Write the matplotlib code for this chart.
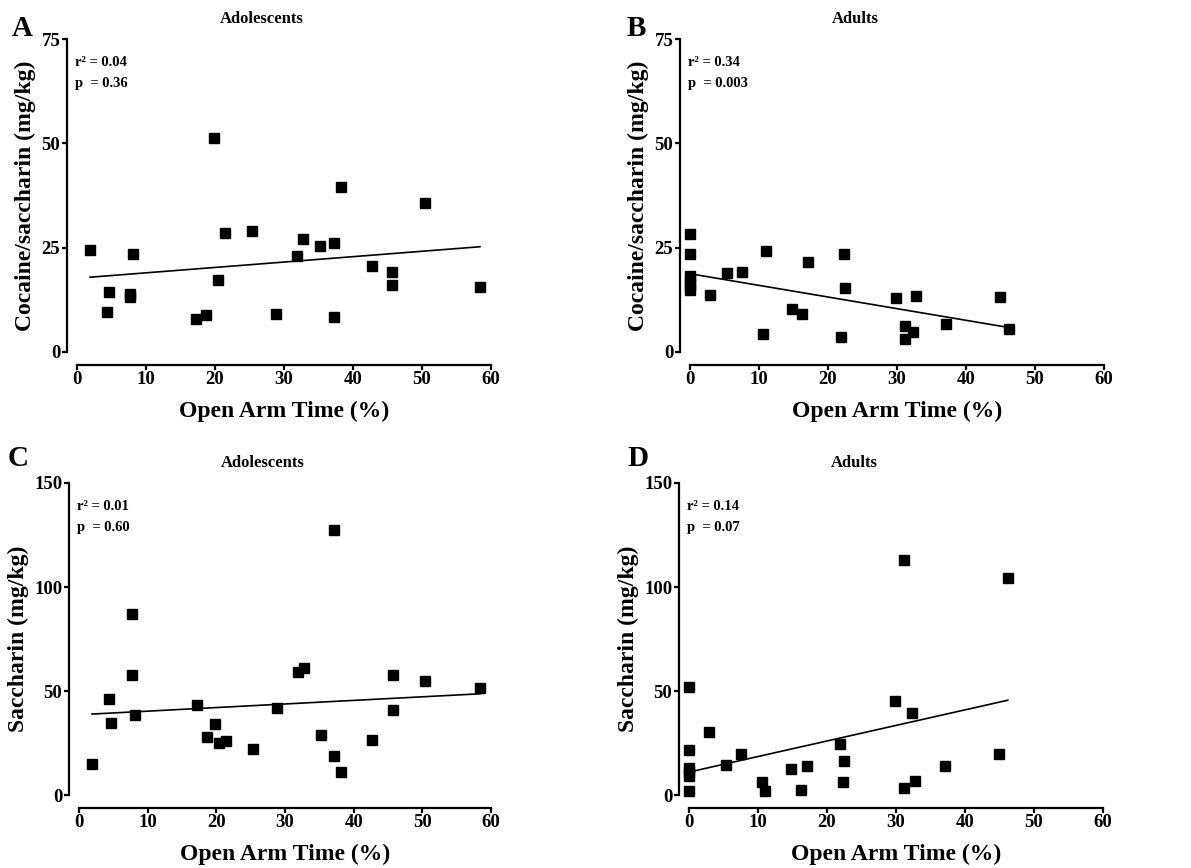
import numpy as np
import matplotlib
matplotlib.use("Agg")
import matplotlib.pyplot as plt

plt.rcParams["font.family"] = ["Liberation Serif", "DejaVu Serif"]
plt.rcParams["font.weight"] = "bold"

# open arm time (%), shared by the two measures in each age group
adol_oat = [1.9, 4.3, 4.6, 7.7, 7.7, 8.1, 17.2, 18.7, 19.8, 20.4, 21.4, 25.3,
            28.9, 31.9, 32.8, 35.2, 37.2, 37.2, 38.2, 42.7, 45.7, 45.7, 50.4, 58.4]
adult_oat = [0, 0, 0, 0, 0, 0, 2.85, 5.4, 7.5, 10.6, 11.0, 14.8, 16.2, 17.1,
             21.9, 22.3, 22.4, 29.9, 31.1, 31.2, 32.3, 32.8, 37.1, 44.9, 46.2]

# cocaine/saccharin (mg/kg)
adol_coc = [24.5, 9.6, 14.3, 14.0, 13.1, 23.5, 8.0, 8.8, 51.2, 17.2, 28.4, 28.9,
            9.0, 23.1, 27.0, 25.3, 26.2, 8.3, 39.6, 20.6, 19.1, 16.1, 35.8, 15.5]
adult_coc = [28.2, 23.6, 18.2, 17.1, 16.0, 14.9, 13.6, 18.9, 19.2, 4.2, 24.1, 10.2,
             9.1, 21.6, 3.5, 23.4, 15.3, 12.9, 6.2, 3.2, 4.9, 13.3, 6.7, 13.1, 5.4]

# saccharin (mg/kg)
adol_sac = [14.9, 46.3, 34.8, 87.0, 57.6, 38.7, 43.5, 27.8, 34.2, 25.2, 25.8, 21.9,
            41.7, 59.0, 61.1, 28.9, 127.2, 18.9, 11.1, 26.5, 57.6, 41.1, 54.6, 51.3]
adult_sac = [51.7, 21.7, 13.0, 11.0, 9.1, 2.1, 30.3, 14.6, 19.6, 6.1, 1.9, 12.4,
             2.2, 14.1, 24.4, 6.4, 16.4, 45.2, 112.9, 3.2, 39.3, 6.9, 14.1, 19.6, 104.4]

panel_letters = ["A", "B", "C", "D"]
panel_titles = ["Adolescents", "Adults", "Adolescents", "Adults"]
stats_r2 = ["0.04", "0.34", "0.01", "0.14"]
stats_p = ["0.36", "0.003", "0.60", "0.07"]
ylabels = ["Cocaine/saccharin (mg/kg)", "Cocaine/saccharin (mg/kg)",
           "Saccharin (mg/kg)", "Saccharin (mg/kg)"]
yticks_top = [0, 25, 50, 75]
yticks_bottom = [0, 50, 100, 150]
xticks = [0, 10, 20, 30, 40, 50, 60]

W, H = 1191, 868
fig = plt.figure(figsize=(W / 100, H / 100), dpi=100)

# axes boxes in pixels: left, top(ymax), right, bottom(y=0)
boxes = [(77, 39, 491, 352), (690, 39, 1104, 352),
         (79, 483, 491, 795), (689, 483, 1103, 795)]
title_pos = [0.447, 0.40, 0.445, 0.40]
data = [(adol_oat, adol_coc), (adult_oat, adult_coc),
        (adol_oat, adol_sac), (adult_oat, adult_sac)]

for i, (l, t, r, b) in enumerate(boxes):
    ax = fig.add_axes([l / W, 1 - b / H, (r - l) / W, (b - t) / H])
    x = np.array(data[i][0])
    y = np.array(data[i][1])
    ax.plot(x, y, "s", color="black", markersize=7, clip_on=False, zorder=3)
    k, c = np.polyfit(x, y, 1)
    xs = np.array([x.min(), x.max()])
    ax.plot(xs, k * xs + c, color="black", lw=1.2, clip_on=False)

    yt = yticks_top if i < 2 else yticks_bottom
    ax.set_xlim(0, 60)
    ax.set_ylim(0, yt[-1])
    ax.set_xticks(xticks)
    ax.set_yticks(yt)
    for s in ["top", "right"]:
        ax.spines[s].set_visible(False)
    ax.spines["left"].set_position(("outward", 7))
    ax.spines["bottom"].set_position(("outward", 9))
    for s in ["left", "bottom"]:
        ax.spines[s].set_linewidth(1.6)
    ax.tick_params(width=1.6, length=3.5, labelsize=13.5, pad=1.5)
    for lab in ax.get_xticklabels() + ax.get_yticklabels():
        lab.set_fontweight("bold")

    ax.set_xlabel("Open Arm Time (%)", fontsize=17, fontweight="bold", labelpad=9)
    ax.set_ylabel(ylabels[i], fontsize=17, fontweight="bold", labelpad=4)

    ax.text(title_pos[i], 1.0 + 20 / (b - t), panel_titles[i], transform=ax.transAxes,
            ha="center", va="center", fontsize=12, fontweight="bold")
    ax.text(-0.006, 1.0 - 24 / (b - t), "r\u00b2 = " + stats_r2[i], transform=ax.transAxes,
            ha="left", va="center", fontsize=10.5, fontweight="bold")
    ax.text(-0.006, 1.0 - 44 / (b - t), "p  = " + stats_p[i], transform=ax.transAxes,
            ha="left", va="center", fontsize=10.5, fontweight="bold")

letter_xy = [(12, 29), (627, 29), (8, 459), (627, 459)]
for letter, (lx, ly) in zip(panel_letters, letter_xy):
    fig.text(lx / W, 1 - ly / H, letter, ha="left", va="center",
             fontsize=21, fontweight="bold")

fig.savefig("out.png", dpi=100)
